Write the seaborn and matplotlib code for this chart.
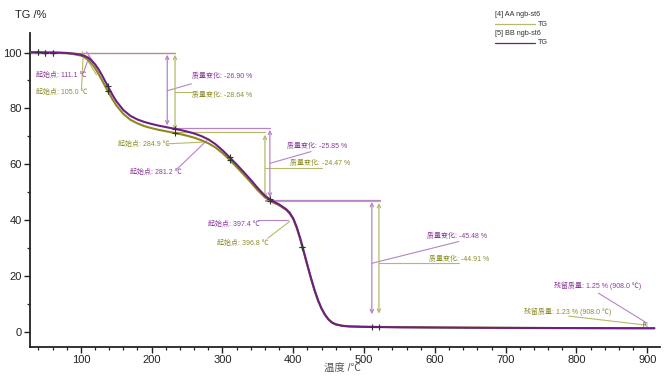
import numpy as np
import pandas as pd
import seaborn as sns
import matplotlib
matplotlib.use('Agg')
import matplotlib.pyplot as plt

# ---- data ----
temp = [30, 40, 50, 60, 70, 80, 90, 100, 105, 110, 115, 120, 125, 130, 135, 140, 145, 150,
        160, 170, 180, 190, 200, 210, 220, 230, 240, 250, 260, 270, 280, 290, 300, 310,
        320, 330, 340, 350, 360, 370, 380, 390, 395, 400, 405, 410, 415, 420, 425, 430,
        435, 440, 445, 450, 455, 460, 470, 480, 500, 550, 600, 650, 700, 750, 800, 850,
        900, 910]
tg_aa = [100.1, 100.05, 100.0, 99.95, 99.9, 99.75, 99.4, 98.9, 98.3, 97.4, 96.1, 94.4, 92.3,
         90.0, 87.6, 85.3, 83.1, 81.1, 78.0, 75.9, 74.6, 73.6, 72.9, 72.3, 71.8, 71.3, 70.8,
         70.2, 69.5, 68.6, 67.5, 66.0, 64.0, 61.6, 59.0, 56.3, 53.5, 50.6, 48.1, 46.5, 45.3,
         43.6, 42.3, 40.3, 37.1, 33.0, 28.3, 23.6, 19.0, 14.8, 11.1, 8.2, 6.0, 4.4, 3.3, 2.7,
         2.15, 1.95, 1.8, 1.62, 1.52, 1.44, 1.38, 1.33, 1.29, 1.26, 1.23, 1.23]
tg_bb = [100.1, 100.05, 100.0, 100.0, 99.95, 99.85, 99.6, 99.2, 98.8, 98.2, 97.2, 95.8, 94.0,
         91.8, 89.4, 87.0, 84.7, 82.6, 79.4, 77.3, 76.0, 75.1, 74.4, 73.8, 73.3, 72.8, 72.3,
         71.7, 71.0, 70.1, 68.9, 67.2, 65.0, 62.5, 59.9, 57.2, 54.4, 51.4, 48.7, 46.9, 45.6,
         43.9, 42.6, 40.6, 37.4, 33.3, 28.6, 23.9, 19.3, 15.0, 11.3, 8.3, 6.0, 4.3, 3.2, 2.6,
         2.05, 1.85, 1.72, 1.58, 1.5, 1.42, 1.37, 1.33, 1.3, 1.27, 1.25, 1.25]

# step evaluation
levels_aa = [100.0, 71.36, 46.89, 1.98]
levels_bb = [100.0, 73.10, 47.25, 1.77]
arrow_x_aa = [233, 360, 521]
arrow_x_bb = [222, 367, 511]
mass_change_aa = ['-28.64', '-24.47', '-44.91']
mass_change_bb = ['-26.90', '-25.85', '-45.48']
onset_aa = [105.0, 284.9, 396.8]
onset_bb = [111.1, 281.2, 397.4]
residual_aa = 1.23
residual_bb = 1.25
residual_temp = 908.0
marks_t = [40, 50, 60, 138, 233, 310, 367, 413]
marks_end = [511, 521]

c_aa = '#8a8a1e'
c_bb = '#6e1f82'
t_aa = '#8c8c2c'
t_bb = '#8a3a9c'
l_aa = '#b8b86a'
l_bb = '#b684c6'

sns.set_theme(style='ticks')
plt.rcParams['font.family'] = ['Liberation Sans', 'Noto Sans CJK SC']

df = pd.DataFrame({'T': temp * 2, 'TG': tg_aa + tg_bb,
                   'sample': ['AA'] * len(temp) + ['BB'] * len(temp)})

fig = plt.figure(figsize=(6.64, 3.79), dpi=100)
ax = fig.add_axes([0.045, 0.085, 0.949, 0.828])

# reference levels / arrows
spans_aa = [(28, 233), (233, 360), (360, 522)]
spans_bb = [(28, 233), (233, 367), (360, 522)]
for spans, lv, col in [(spans_aa, levels_aa, l_aa), (spans_bb, levels_bb, l_bb)]:
    for (a, b), y in zip(spans, lv[:3]):
        ax.plot([a, b], [y, y], color=col, lw=0.9, zorder=1)
for ax_x, lv, col in [(arrow_x_aa, levels_aa, l_aa), (arrow_x_bb, levels_bb, l_bb)]:
    for i, x in enumerate(ax_x):
        top = lv[i] - 0.8
        bot = lv[i + 1] + (4.5 if i == 2 else 0.8)
        ax.annotate('', xy=(x, bot), xytext=(x, top),
                    arrowprops=dict(arrowstyle='<->', color=col, lw=0.9,
                                    mutation_scale=6, shrinkA=0, shrinkB=0))

sns.lineplot(data=df, x='T', y='TG', hue='sample', palette={'AA': c_aa, 'BB': c_bb},
             lw=1.5, ax=ax, legend=False, zorder=3)

# + markers on the curves
for tg, col in [(tg_aa, c_aa), (tg_bb, c_bb)]:
    ax.plot(marks_t, np.interp(marks_t, temp, tg), '+', color='#333333', ms=4.5, mew=0.8, zorder=4)
ax.plot(marks_end, np.interp(marks_end, temp, tg_bb), '+', color='#333333', ms=4.5, mew=0.8, zorder=4)

fs = 5.0
# mass change labels
mc_pos_bb = [(257, 91.5), (391, 66.3), (589, 34.2)]
mc_pos_aa = [(257, 84.8), (395, 60.3), (592, 26.0)]
mc_lead_bb = [((222, 86.3), (256, 88.8)), ((367, 60.3), (425, 64.5)), ((511, 24.5), (634, 32.3))]
mc_lead_aa = [((233, 86.0), (257, 86.0)), ((360, 58.8), (440, 58.8)), ((521, 24.6), (634, 24.6))]
for txts, pos, leads, tc, lc in [(mass_change_bb, mc_pos_bb, mc_lead_bb, t_bb, l_bb),
                                 (mass_change_aa, mc_pos_aa, mc_lead_aa, t_aa, l_aa)]:
    for s, (x, y), (p0, p1) in zip(txts, pos, leads):
        ax.text(x, y, f'质量变化: {s} %', color=tc, fontsize=fs, va='center', ha='left')
        ax.plot([p0[0], p1[0]], [p0[1], p1[1]], color=lc, lw=0.8, zorder=1)

# onset labels
on_pos_bb = [(37, 91.7), (169, 57.0), (279, 38.4)]
on_pos_aa = [(37, 85.6), (153, 67.0), (292, 31.7)]
on_lead_bb = [((104, 93.0), (112, 98.8)), ((236, 58.3), (278, 68.5)), ((350, 39.9), (392, 39.9))]
on_lead_aa = [((101, 87.2), (103, 97.8)), ((222, 67.3), (272, 67.9)), ((364, 33.5), (395, 39.5))]
for vals, pos, leads, tc, lc in [(onset_bb, on_pos_bb, on_lead_bb, t_bb, l_bb),
                                 (onset_aa, on_pos_aa, on_lead_aa, t_aa, l_aa)]:
    for v, (x, y), (p0, p1) in zip(vals, pos, leads):
        ax.text(x, y, f'起始点: {v:.1f} ℃', color=tc, fontsize=fs, va='center', ha='left')
        ax.plot([p0[0], p1[0]], [p0[1], p1[1]], color=lc, lw=0.8, zorder=1)

# onset tangents
ax.plot([108, 128], [100.3, 92.5], color=l_bb, lw=0.8, zorder=1)
ax.plot([102, 122], [100.3, 92.0], color=l_aa, lw=0.8, zorder=1)

# residual mass
ax.text(768, 16.3, f'残留质量: {residual_bb:.2f} % ({residual_temp:.1f} ℃)', color=t_bb,
        fontsize=fs, va='center', ha='left')
ax.plot([831, 897], [13.8, 3.5], color=l_bb, lw=0.8)
ax.text(726, 7.0, f'残留质量: {residual_aa:.2f} % ({residual_temp:.1f} ℃)', color=t_aa,
        fontsize=fs, va='center', ha='left')
ax.plot([789, 897], [5.6, 2.4], color=l_aa, lw=0.8)
ax.text(897, 2.6, '[4]', fontsize=3.5, color='#444444', ha='center', va='center')

ax.set_xlim(28, 918)
ax.set_ylim(-5.4, 107)
ax.set_xticks([100, 200, 300, 400, 500, 600, 700, 800, 900])
ax.set_xticks(np.arange(40, 911, 20), minor=True)
ax.set_yticks([0, 20, 40, 60, 80, 100])
ax.set_yticks(np.arange(10, 101, 20), minor=True)
ax.tick_params(axis='both', which='major', length=4, width=1.0, labelsize=8, colors='#222222',
               direction='out', pad=2)
ax.tick_params(axis='both', which='minor', length=2.5, width=0.9, direction='out', colors='#222222')
ax.set_xlabel('')
ax.set_ylabel('')
for s in ['top', 'right']:
    ax.spines[s].set_visible(False)
for s in ['left', 'bottom']:
    ax.spines[s].set_color('#222222')
    ax.spines[s].set_linewidth(1.3)

fig.text(15 / 664, 1 - 15 / 379, 'TG /%', fontsize=8, color='#222222', va='center', ha='left')
fig.text(342 / 664, 1 - 369 / 379, '温度 /℃', fontsize=7.5, color='#555555', va='center', ha='center')

# legend drawn as in the instrument export
fig.text(495 / 664, 1 - 14 / 379, '[4] AA ngb-st6', fontsize=5.2, color='#333333', va='center')
fig.add_artist(plt.Line2D([495 / 664, 535 / 664], [1 - 23.5 / 379] * 2, color=l_aa, lw=0.9))
fig.text(538 / 664, 1 - 24 / 379, 'TG', fontsize=5.2, color='#333333', va='center')
fig.text(495 / 664, 1 - 33.5 / 379, '[5] BB ngb-st6', fontsize=5.2, color='#333333', va='center')
fig.add_artist(plt.Line2D([495 / 664, 535 / 664], [1 - 42.5 / 379] * 2, color=c_bb, lw=0.9))
fig.text(538 / 664, 1 - 42.5 / 379, 'TG', fontsize=5.2, color='#333333', va='center')

fig.savefig('out.png', dpi=100)
